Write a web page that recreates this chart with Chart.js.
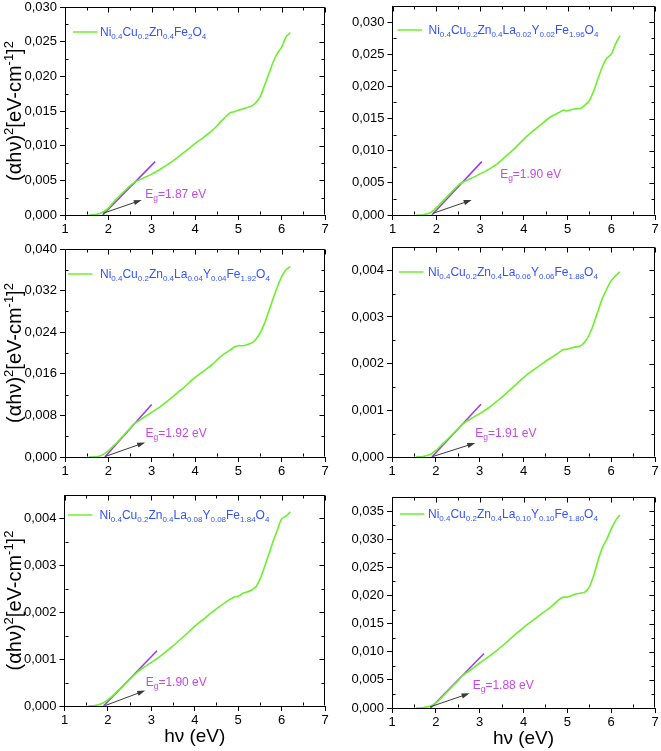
<!DOCTYPE html>
<html><head><meta charset="utf-8">
<script src="https://cdn.jsdelivr.net/npm/chart.js@4/dist/chart.umd.min.js"></script>
<style>
html,body{margin:0;padding:0;background:#fff;}
body{width:661px;height:751px;position:relative;overflow:hidden;}
.panel{position:absolute;}
</style></head><body>
<div class="panel" id="p0"><canvas id="c0"></canvas></div>
<div class="panel" id="p1"><canvas id="c1"></canvas></div>
<div class="panel" id="p2"><canvas id="c2"></canvas></div>
<div class="panel" id="p3"><canvas id="c3"></canvas></div>
<div class="panel" id="p4"><canvas id="c4"></canvas></div>
<div class="panel" id="p5"><canvas id="c5"></canvas></div>
<script>
// ---------- DATA ----------
const photonEnergyEV = [1.55,1.7,1.8,1.9,2.0,2.1,2.2,2.3,2.4,2.5,2.6,2.8,3.0,3.2,3.4,3.6,3.8,4.0,4.2,4.4,4.6,4.8,4.9,5.0,5.1,5.2,5.3,5.4,5.5,5.6,5.7,5.8,5.9,6.0,6.1,6.2];

const tauc_x000 = [0,0.00005,0.0002,0.0005,0.0010,0.0017,0.0024,0.0030,0.0036,0.0042,0.0047,0.0053,0.0059,0.0066,0.0074,0.0083,0.0093,0.0103,0.0112,0.0122,0.0135,0.0147,0.0149,0.0151,0.0153,0.0155,0.0157,0.0162,0.0170,0.0186,0.0203,0.0220,0.0233,0.0242,0.0257,0.0263];
const tauc_x002 = [0,0.00005,0.0002,0.0005,0.0011,0.0018,0.0025,0.0032,0.0039,0.0046,0.0051,0.0057,0.0064,0.0071,0.0080,0.0092,0.0104,0.0118,0.0130,0.0141,0.0152,0.0159,0.0163,0.0162,0.0164,0.0165,0.0166,0.0171,0.0178,0.0193,0.0213,0.0231,0.0244,0.0250,0.0266,0.0279];
const tauc_x004 = [0,0.00005,0.0002,0.0006,0.0012,0.0020,0.0028,0.0037,0.0046,0.0055,0.0064,0.0075,0.0086,0.0097,0.0110,0.0124,0.0138,0.0153,0.0165,0.0178,0.0194,0.0205,0.0211,0.0214,0.0214,0.0216,0.0219,0.0226,0.0238,0.0256,0.0280,0.0304,0.0327,0.0347,0.0360,0.0366];
const tauc_x006 = [0,0.00001,0.00003,0.00007,0.00014,0.00023,0.00032,0.00041,0.00050,0.00060,0.00070,0.00082,0.00093,0.00105,0.00120,0.00136,0.00153,0.00170,0.00185,0.00198,0.00211,0.00223,0.00230,0.00231,0.00234,0.00236,0.00238,0.00247,0.00262,0.00285,0.00313,0.00340,0.00360,0.00378,0.00388,0.00397];
const tauc_x008 = [0,0.00001,0.00003,0.00007,0.00013,0.00021,0.00030,0.00039,0.00048,0.00057,0.00066,0.00081,0.00093,0.00106,0.00121,0.00136,0.00153,0.00170,0.00185,0.00200,0.00214,0.00227,0.00232,0.00234,0.00240,0.00243,0.00247,0.00253,0.00270,0.00295,0.00322,0.00350,0.00375,0.00399,0.00405,0.00414];
const tauc_x010 = [0,0.00005,0.0002,0.0004,0.0009,0.0016,0.0024,0.0032,0.0040,0.0048,0.0057,0.0068,0.0080,0.0091,0.0103,0.0116,0.0130,0.0143,0.0155,0.0167,0.0178,0.0192,0.0197,0.0197,0.0200,0.0203,0.0204,0.0206,0.0215,0.0235,0.0262,0.0285,0.0300,0.0318,0.0333,0.0343];

const sampleFormulas = [
  "Ni_{0.4}Cu_{0.2}Zn_{0.4}Fe_{2}O_{4}",
  "Ni_{0.4}Cu_{0.2}Zn_{0.4}La_{0.02}Y_{0.02}Fe_{1.96}O_{4}",
  "Ni_{0.4}Cu_{0.2}Zn_{0.4}La_{0.04}Y_{0.04}Fe_{1.92}O_{4}",
  "Ni_{0.4}Cu_{0.2}Zn_{0.4}La_{0.06}Y_{0.06}Fe_{1.88}O_{4}",
  "Ni_{0.4}Cu_{0.2}Zn_{0.4}La_{0.08}Y_{0.08}Fe_{1.84}O_{4}",
  "Ni_{0.4}Cu_{0.2}Zn_{0.4}La_{0.10}Y_{0.10}Fe_{1.80}O_{4}"
];
const bandGapEV     = [1.87, 1.90, 1.92, 1.91, 1.90, 1.88];
const bandGapLabels = ["1.87 eV", "1.90 eV", "1.92 eV", "1.91 eV", "1.90 eV", "1.88 eV"];
const tangentEndX   = [3.08, 3.04, 3.00, 3.03, 3.13, 3.10];
const tangentEndY   = [0.0077, 0.0083, 0.0101, 0.00113, 0.00118, 0.0097];
const arrowTailX    = [1.88, 1.93, 1.93, 1.93, 1.94, 1.87];
const arrowTailY    = [0.00025, 0.00027, 0.0001, 0.00001, 0.00001, 0.0002];
const arrowHeadX    = [2.77, 2.81, 2.85, 2.90, 2.86, 2.77];
const arrowHeadY    = [0.00216, 0.00234, 0.0028, 0.0003, 0.00033, 0.0026];
const labelX        = [2.85, 3.46, 2.86, 2.90, 2.87, 2.84];
const labelY        = [0.00313, 0.0065, 0.0046, 0.00052, 0.00052, 0.0042];
const yAxisMax      = [0.030, 0.0325, 0.040, 0.0045, 0.0045, 0.0375];
const yAxisStep     = [0.005, 0.005, 0.008, 0.001, 0.001, 0.005];
const xTickValues   = [1, 2, 3, 4, 5, 6, 7];
const yAxisTitle    = [["(αhν)",0],["2",1],["[eV-cm",0],["-1",1],["]",0],["2",1]];
const xAxisTitle    = "hν (eV)";
const series = [tauc_x000, tauc_x002, tauc_x004, tauc_x006, tauc_x008, tauc_x010];

// ---------- LAYOUT (chart areas, page pixels) ----------
const boxes = [
  {div:[0,0,330,240],   area:[65,7,325,215],    legend:[8,25,  35], yTitle:true,  xTitle:false},
  {div:[330,0,331,240], area:[392.5,6,655,215], legend:[5,24,  36], yTitle:false, xTitle:false},
  {div:[0,240,330,245], area:[65,249,325,457],  legend:[3,25,  35], yTitle:true,  xTitle:false},
  {div:[330,240,331,245],area:[392,247,655,457],legend:[7,25,  36], yTitle:false, xTitle:false},
  {div:[0,485,330,266], area:[64.5,495,325,706],legend:[3.5,20,35], yTitle:true,  xTitle:true},
  {div:[330,485,331,266],area:[392,497,655,708],legend:[8,17, 36], yTitle:false, xTitle:true}
];

const FONT = '"Liberation Sans", Arial, Helvetica, sans-serif';
const GREEN = '#6cf02c', PURPLE = '#9d38ec', LABEL = '#c648e6', BLUE = '#3153ff', ARROW = '#3a3a3a';
Chart.defaults.font.family = FONT;
Chart.defaults.color = '#000';

function parseFormula(s){
  const parts=[]; const re=/([^_]+?)(?:_\{([^}]*)\})?(?=[A-Z]|$)/g; let m;
  while((m=re.exec(s))!==null){ if(!m[0]) {re.lastIndex++; continue;} parts.push([m[1],0]); if(m[2]) parts.push([m[2],1]); }
  return parts;
}
function runsWidth(ctx, parts, main, small){
  let w=0; for(const [t,s] of parts){ ctx.font=(s?small:main)+'px '+FONT; w+=ctx.measureText(t).width; } return w;
}
function drawRuns(ctx, x, y, parts, main, small, shift){
  let cx=x;
  for(const [t,s] of parts){ ctx.font=(s?small:main)+'px '+FONT; ctx.fillText(t, cx, y + (s?shift:0)); cx+=ctx.measureText(t).width; }
}

const decor = {
  id:'decor',
  afterDatasetsDraw(chart, args, o){
    const {ctx, chartArea:a, scales:{x, y}} = chart;
    const i = o.idx, b = boxes[i];
    ctx.save();
    ctx.strokeStyle='#000'; ctx.lineWidth=1;
    const L=Math.round(a.left)+0.5, R=Math.round(a.right)-0.5, T=Math.round(a.top)+0.5, B=Math.round(a.bottom)-0.5;
    ctx.beginPath();
    ctx.moveTo(L,T); ctx.lineTo(R,T); ctx.lineTo(R,B); ctx.stroke();
    ctx.beginPath();
    for(let v=1; v<=7+1e-9; v+=0.5){
      const px=Math.round(x.getPixelForValue(v))+0.5;
      const major = Math.abs(v-Math.round(v))<1e-6;
      const len = major?5:3;
      ctx.moveTo(px,T); ctx.lineTo(px,T+len);
      if(!major){ ctx.moveTo(px,B); ctx.lineTo(px,B-3); }
    }
    const st = yAxisStep[i];
    for(let k=0; k*st/2<=yAxisMax[i]+1e-12; k++){
      const v=k*st/2; const py=Math.round(y.getPixelForValue(v))+0.5;
      const major = k%2===0; const len=major?5:3;
      ctx.moveTo(R,py); ctx.lineTo(R-len,py);
      if(!major){ ctx.moveTo(L,py); ctx.lineTo(L+3,py); }
    }
    ctx.stroke();
    // arrow
    const x0=x.getPixelForValue(arrowTailX[i]), y0=y.getPixelForValue(arrowTailY[i]);
    const x1=x.getPixelForValue(arrowHeadX[i]), y1=y.getPixelForValue(arrowHeadY[i]);
    const ang=Math.atan2(y1-y0,x1-x0), c=Math.cos(ang), s=Math.sin(ang);
    ctx.strokeStyle=ARROW; ctx.fillStyle=ARROW; ctx.lineWidth=1;
    ctx.beginPath(); ctx.moveTo(x0,y0); ctx.lineTo(x1-6*c,y1-6*s); ctx.stroke();
    ctx.beginPath(); ctx.moveTo(x1,y1);
    ctx.lineTo(x1-8*c+2.6*s, y1-8*s-2.6*c); ctx.lineTo(x1-8*c-2.6*s, y1-8*s+2.6*c); ctx.closePath(); ctx.fill();
    // Eg label
    ctx.fillStyle=LABEL; ctx.textBaseline='alphabetic'; ctx.textAlign='left';
    const lx=x.getPixelForValue(labelX[i]), ly=y.getPixelForValue(labelY[i])+4.3;
    drawRuns(ctx, lx, ly, [["E",0],["g",1],["="+bandGapLabels[i],0]], 12, 8.5, 3);
    // legend
    const [dx,dy,tx]=b.legend;
    ctx.strokeStyle=GREEN; ctx.lineWidth=1.5;
    ctx.beginPath(); ctx.moveTo(a.left+dx, a.top+dy); ctx.lineTo(a.left+dx+24.5, a.top+dy); ctx.stroke();
    ctx.fillStyle=BLUE;
    drawRuns(ctx, a.left+tx, a.top+dy+4.3, parseFormula(sampleFormulas[i]), 12, 8, 3);
    // axis titles
    ctx.fillStyle='#000';
    if(b.yTitle){
      const parts=yAxisTitle;
      const w=runsWidth(ctx, parts, 20, 13);
      ctx.translate(21, (a.top+a.bottom)/2); ctx.rotate(-Math.PI/2);
      drawRuns(ctx, -w/2, 0, parts, 20, 13, -8);
      ctx.setTransform(1,0,0,1,0,0);
    }
    if(b.xTitle){
      ctx.font='19px '+FONT; ctx.textAlign='center'; ctx.textBaseline='middle';
      ctx.fillText(xAxisTitle, (a.left+a.right)/2, a.bottom+31);
    }
    ctx.restore();
  }
};

boxes.forEach((b,i)=>{
  const [dl,dt,dw,dh]=b.div, [al,at,ar,ab]=b.area;
  const el=document.getElementById('p'+i);
  el.style.left=dl+'px'; el.style.top=dt+'px'; el.style.width=dw+'px'; el.style.height=dh+'px';
  const yW=al-dl, xH=dt+dh-ab, padT=at-dt, padR=dl+dw-ar;
  const step=yAxisStep[i];
  new Chart(document.getElementById('c'+i), {
    type:'line',
    data:{datasets:[
      {data: photonEnergyEV.map((e,k)=>({x:e, y:series[i][k]})), borderColor:GREEN, borderWidth:1.6, pointRadius:0, tension:0.25, fill:false},
      {data:[{x:bandGapEV[i], y:0},{x:tangentEndX[i], y:tangentEndY[i]}], borderColor:PURPLE, borderWidth:1.5, pointRadius:0, fill:false}
    ]},
    options:{
      responsive:true, maintainAspectRatio:false, animation:false, events:[],
      layout:{padding:{top:padT, right:padR, left:0, bottom:0}},
      plugins:{legend:{display:false}, tooltip:{enabled:false}, decor:{idx:i}},
      scales:{
        x:{type:'linear', min:1, max:7,
          afterBuildTicks(s){ s.ticks = xTickValues.map(v=>({value:v})); },
          ticks:{font:{size:13}, color:'#000', padding:2, maxRotation:0, callback:v=>String(v)},
          grid:{display:true, drawOnChartArea:false, drawTicks:true, tickLength:5, color:'#000', lineWidth:1},
          border:{display:true, color:'#000', width:1},
          afterFit(s){ s.height=xH; s.paddingLeft=0; s.paddingRight=0; }
        },
        y:{type:'linear', min:0, max:yAxisMax[i],
          afterBuildTicks(s){ const t=[]; for(let k=0;k*step<=yAxisMax[i]+1e-12;k++) t.push({value:+(k*step).toFixed(6)}); s.ticks=t; },
          ticks:{font:{size:13}, color:'#000', padding:3, callback:v=>v.toFixed(3).replace('.',',')},
          grid:{display:true, drawOnChartArea:false, drawTicks:true, tickLength:5, color:'#000', lineWidth:1},
          border:{display:true, color:'#000', width:1},
          afterFit(s){ s.width=yW; s.paddingTop=0; s.paddingBottom=0; }
        }
      }
    },
    plugins:[decor]
  });
});
</script>
</body></html>
